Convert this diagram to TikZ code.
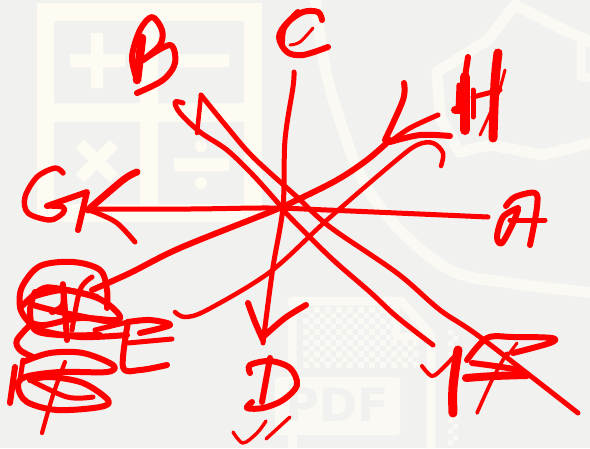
\documentclass[tikz,border=0pt]{standalone}
\usepackage{fontspec}
\newfontfamily\wmfont{DejaVu Sans}
\definecolor{paper}{HTML}{F1F1F0}
\definecolor{wm}{HTML}{FEFBF2}
\definecolor{wmsoft}{HTML}{FAF9F3}
\tikzset{
  ink/.style={draw=red,line width=5,line cap=round,line join=round},
  heavy ink/.style={ink,line width=6},
  thin ink/.style={ink,line width=3},
  thick ink/.style={ink,line width=8.5},
  wmline/.style={draw=wmsoft,line width=11,line join=round},
  wmfill/.style={fill=wm,draw=none}
}
\newcommand\inkstroke[2][ink]{\draw[#1] plot[smooth,tension=.55] coordinates {#2};}
\begin{document}
\begin{tikzpicture}[x=1pt,y=-1pt]
\useasboundingbox (0,0) rectangle (590,448);
\fill[paper] (0,0) rectangle (590,448);
\begin{scope}
\clip (0,0) rectangle (590,448);
% calculator watermark
\fill[wm] (37,3) rectangle (262,222);
\fill[paper] (54,21) rectangle (140,103) (158,21) rectangle (244,103)
             (54,122) rectangle (140,204) (158,122) rectangle (244,204);
\fill[wmfill] (70,54) rectangle (125,67) (91,33) rectangle (103,88)
              (177,54) rectangle (229,67) (174,158) rectangle (229,171);
\draw[draw=wm,line width=12] (80,144) -- (114,178) (114,144) -- (80,178);
\fill[wmfill] (201,146) circle (6) (201,183) circle (6);
% shield watermark
\draw[wmline] plot[smooth,tension=.6] coordinates {(315,-5) (325,67) (343,130) (363,180) (397,227) (450,270) (510,283) (595,293)};
\draw[wmline] (595,44) -- (560,28) -- (515,5) -- (488,40) -- (437,72) -- (440,117) -- (459,152) -- (490,145) -- (543,155) -- (595,142);
\draw[draw=wmsoft,line width=9] (595,42) -- (581,42) -- (581,76) -- (595,79);
% pdf document watermark
\draw[draw=wmsoft,line width=9,line join=round] (292,380) -- (292,301) -- (401,301) -- (431,335) -- (431,448);
\draw[draw=wmsoft,line width=7] (396,305) -- (396,336) -- (431,336);
\draw[draw=wmsoft,line width=9] (292,430) -- (292,448);
\foreach \i in {0,...,20}{\foreach \j in {0,...,10}{
  \pgfmathtruncatemacro\cellsum{\i+\j}
  \ifodd\cellsum\else
    \ifnum\i>16 \ifnum\j<6 \else
      \fill[wmsoft] ({303+5.5*\i},{307+5.5*\j}) rectangle +(5.5,5.5);
    \fi\else
      \fill[wmsoft] ({303+5.5*\i},{307+5.5*\j}) rectangle +(5.5,5.5);
    \fi
  \fi
}}
\foreach \j in {0,...,20}{
  \fill[wmsoft] ({448+5*mod(\j,2)},{330+5.5*\j}) rectangle +(5,5);
}
\fill[wmsoft,rounded corners=3] (275,377) rectangle (400,435);
\node[font=\wmfont\bfseries,text=paper,inner sep=0,anchor=center] (pdflabel) at (337,405) {\fontsize{46}{46}\selectfont PDF};
\end{scope}
% B
\inkstroke[heavy ink]{(137,80) (132,57) (140,30) (152,17) (162,30) (160,45) (143,60)}
\draw[thick ink] (142,38) -- (137,80);
\inkstroke[heavy ink]{(143,60) (170,45) (175,63) (163,80) (137,93)}
% C
\inkstroke[heavy ink]{(322,20) (318,12) (303,12) (287,23) (279,37) (287,52) (303,55) (328,47)}
\inkstroke[heavy ink]{(298,12) (284,28) (282,45)}
\inkstroke[thin ink]{(290,45) (300,42) (313,28)}
% line C to D with arrowhead
\inkstroke[ink]{(294,72) (293,87) (285,140) (283,207) (273,267) (265,327) (263,343)}
\inkstroke[heavy ink]{(248,303) (255,322) (263,340)}
\inkstroke[heavy ink]{(263,337) (285,318) (306,305)}
% D
\draw[heavy ink] (270,358) -- (262,402);
\inkstroke[heavy ink]{(250,373) (250,365) (270,361) (290,368) (297,385) (283,400) (263,408) (247,408) (252,402)}
\inkstroke[ink,line width=3.4]{(233,432) (243,443) (257,433) (266,421)}
\inkstroke[ink,line width=3.4]{(266,439) (290,417)}
% G
\inkstroke[ink,line width=5.4]{(63,173) (55,168) (37,177) (25,197) (28,213) (50,220) (63,213) (63,207) (47,206)}
\draw[heavy ink] (47,206) -- (87,192) -- (78,230);
% A to G with arrowhead
\inkstroke[ink]{(488,217) (327,210) (270,208) (190,209) (90,209)}
\inkstroke[ink,line width=7]{(137,172) (123,180) (88,210)}
\inkstroke[ink]{(88,210) (97,213) (117,223) (135,242)}
% long stroke from B
\inkstroke[ink]{(183,103) (175,102) (180,113) (200,132) (227,150) (253,175) (278,203) (283,210) (330,257) (370,292) (397,317) (433,345)}
\draw[ink,line width=4.5] (197,133) -- (201,95);
\inkstroke[ink]{(201,95) (227,127) (253,157) (297,197) (330,227) (397,273) (440,310) (480,337) (578,413)}
% line from E to H
\inkstroke[heavy ink]{(92,290) (130,273) (180,248) (270,212) (297,200) (337,180) (367,160) (390,140)}
\inkstroke[heavy ink]{(404,83) (403,100) (385,140)}
\inkstroke[ink]{(438,115) (410,128) (390,142)}
\inkstroke[heavy ink]{(390,142) (420,135) (450,136)}
\inkstroke[ink,line width=4.5]{(175,312) (185,317) (207,310) (270,272) (327,220) (393,163) (417,145) (433,143) (443,153) (441,166)}
% A
\inkstroke[heavy ink]{(518,208) (503,217) (497,237) (502,243) (513,223) (518,210)}
\inkstroke[heavy ink]{(506,206) (515,197) (535,193) (537,207) (530,245)}
\draw[ink] (510,220) -- (545,220);
% H
\draw[heavy ink] (468,57) -- (465,77);
\draw[ink,line width=10] (465,77) -- (465,130);
\draw[ink] (459,85) -- (458,110);
\draw[ink,line width=8] (455,110) -- (465,110);
\draw[ink] (473,90) -- (473,117);
\inkstroke[ink,line width=9]{(498,53) (495,83) (493,138)}
\draw[ink] (473,97) -- (500,90);
\inkstroke[thin ink]{(505,70) (497,97) (480,135)}
% F
\inkstroke[ink,line width=4]{(422,366) (432,376) (443,368) (460,350)}
\inkstroke[ink,line width=9]{(458,350) (453,387) (453,413)}
\inkstroke[heavy ink]{(467,360) (487,338) (513,337) (552,338) (550,343) (513,353)}
\draw[thin ink] (508,355) -- (517,343);
\inkstroke[ink,line width=8]{(466,378) (495,376) (527,375)}
\inkstroke[ink,line width=6]{(472,363) (495,366) (520,370)}
\inkstroke[ink,line width=3.6]{(507,353) (493,378) (477,413)}
% scribble on the left
\inkstroke[heavy ink]{(107,308) (107,290) (100,270) (73,262) (40,266) (22,287) (20,307) (27,320) (40,330) (80,337) (127,335)}
\inkstroke[heavy ink]{(20,308) (40,290) (55,288) (95,297) (115,310) (118,320) (80,318) (45,325) (32,323)}
\inkstroke[heavy ink]{(35,292) (30,310) (35,330) (60,335) (100,335)}
\inkstroke[heavy ink]{(32,297) (63,290) (97,297)}
\inkstroke[heavy ink]{(33,305) (60,312) (110,322)}
\inkstroke[heavy ink]{(52,312) (63,305) (63,285) (67,340)}
\inkstroke[ink]{(92,277) (80,290) (72,330)}
\draw[ink] (95,330) -- (128,322);
\inkstroke[heavy ink]{(32,323) (17,340) (20,350) (33,357)}
\inkstroke[heavy ink]{(23,362) (50,353) (83,353) (113,365) (107,372) (60,372) (25,377) (18,387) (27,402) (57,410) (100,407) (108,400) (83,383) (50,377) (30,380)}
\inkstroke[ink]{(30,380) (67,397) (93,397)}
\draw[heavy ink] (15,367) -- (10,403);
\draw[ink] (23,360) -- (20,380);
\inkstroke[ink,line width=4.2]{(65,362) (53,395) (42,433)}
% E
\inkstroke[heavy ink]{(128,322) (123,367) (140,370) (167,365)}
\inkstroke[heavy ink]{(128,322) (150,320) (170,325) (140,333)}
\draw[ink] (128,343) -- (172,339);
\end{tikzpicture}
\end{document}
